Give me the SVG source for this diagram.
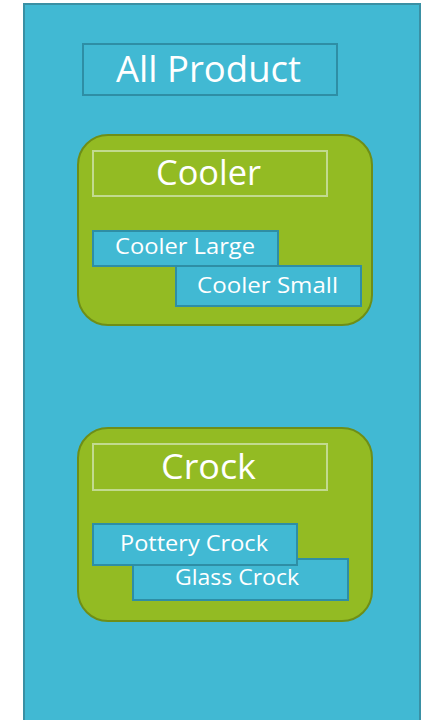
<svg xmlns="http://www.w3.org/2000/svg" width="426" height="720" viewBox="0 0 426 720">
<style>
.t{font-family:"Open Sans","Noto Sans",sans-serif;fill:#fff;text-anchor:middle}
.grp{fill:#93bb23;stroke:#6e8e17;stroke-width:2}
.ttl{fill:none;stroke:#c2da8e;stroke-width:2}
.leaf{fill:#41b9d3;stroke:#2e8ea5;stroke-width:2}
</style>
<rect x="0" y="0" width="426" height="720" fill="#fff"/>
<g id="all">
<rect x="24" y="4" width="396" height="730" fill="#41b9d3" stroke="#3a90a4" stroke-width="2"/>
<rect x="83" y="44" width="254" height="51" fill="none" stroke="#2e8ea5" stroke-width="2"/>
<text class="t" x="208.5" y="82" font-size="36" textLength="185" lengthAdjust="spacingAndGlyphs">All Product</text>
</g>
<g id="cooler">
<rect class="grp" x="78" y="135" width="294" height="190" rx="30"/>
<rect class="ttl" x="93" y="151" width="234" height="45"/>
<text class="t" x="208.5" y="185" font-size="34" textLength="105" lengthAdjust="spacingAndGlyphs">Cooler</text>
</g>
<g id="cooler-large">
<rect class="leaf" x="93" y="231" width="185" height="35"/>
<text class="t" x="185" y="254" font-size="22" textLength="140" lengthAdjust="spacingAndGlyphs">Cooler Large</text>
</g>
<g id="cooler-small">
<rect class="leaf" x="176" y="266" width="185" height="40"/>
<text class="t" x="267.5" y="293" font-size="22" textLength="141" lengthAdjust="spacingAndGlyphs">Cooler Small</text>
</g>
<g id="crock">
<rect class="grp" x="78" y="428" width="294" height="193" rx="30"/>
<rect class="ttl" x="93" y="444" width="234" height="46"/>
<text class="t" x="208.5" y="479" font-size="34" textLength="95" lengthAdjust="spacingAndGlyphs">Crock</text>
</g>
<g id="glass-crock">
<rect class="leaf" x="133" y="559" width="215" height="41"/>
<text class="t" x="237" y="585" font-size="22" textLength="124" lengthAdjust="spacingAndGlyphs">Glass Crock</text>
</g>
<g id="pottery-crock">
<rect class="leaf" x="93" y="524" width="204" height="41"/>
<text class="t" x="194" y="551" font-size="22" textLength="148" lengthAdjust="spacingAndGlyphs">Pottery Crock</text>
</g>
<g id="connectors"></g>
</svg>
